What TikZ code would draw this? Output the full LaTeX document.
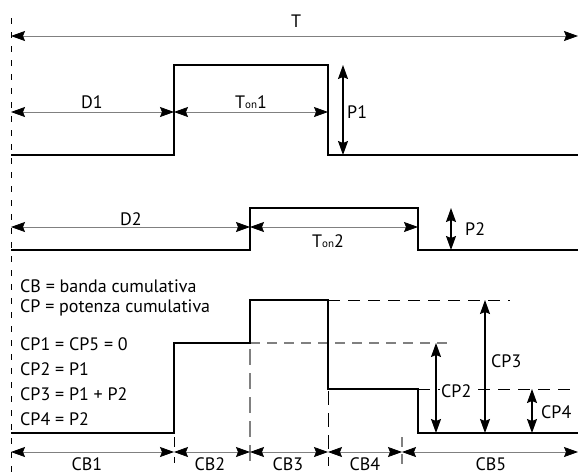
\documentclass[tikz,border=0pt]{standalone}
\usepackage{fontspec}
\setmainfont{PT Sans}
\usetikzlibrary{arrows.meta}
\newcommand\onsub{{\fontsize{11pt}{11pt}\selectfont on}}
\begin{document}
\begin{tikzpicture}[x=1pt, y=-1pt, line join=miter,
    >={Stealth[length=14pt,width=10pt,inset=2pt]},
    sig/.style={line width=2pt},
    dim/.style={gray, line width=0.8pt, <->, >={Stealth[length=14pt,width=10pt,inset=2pt,black]}},
    amp/.style={line width=1.2pt, <->},
    axis/.style={line width=0.9pt, dash pattern=on 6pt off 8pt},
    guide/.style={line width=0.9pt, dash pattern=on 12pt off 8pt},
    guidegray/.style={gray, line width=1.2pt, dash pattern=on 10pt off 7pt},
    lbl/.style={inner sep=0pt, anchor=base, font=\fontsize{18pt}{20pt}\selectfont},
    txt/.style={inner sep=0pt, anchor=base west, font=\fontsize{18pt}{20pt}\selectfont},
    tag/.style={lbl, anchor=base west, fill=white, inner sep=1pt}]
  \useasboundingbox (0,0) rectangle (578,474);
  \coordinate (ax1) at (11,18);
  \coordinate (ax2) at (11,474);
  \draw[axis] (ax1) -- (ax2);
  \coordinate (tl) at (11,36);
  \coordinate (tr) at (578,36);
  \draw[dim] (tl) -- (tr);
  \node[lbl] (tlab) at (296,27) {T};
  \coordinate (a0) at (11,155);
  \coordinate (a1) at (174,155);
  \coordinate (a2) at (174,65);
  \coordinate (a3) at (328,65);
  \coordinate (a4) at (328,155);
  \coordinate (a5) at (578,155);
  \draw[sig] (a0) -- (a1) -- (a2) -- (a3) -- (a4) -- (a5);
  \coordinate (d1l) at (11,112);
  \coordinate (d1r) at (174,112);
  \coordinate (t1r) at (328,112);
  \draw[dim] (d1l) -- (d1r);
  \draw[dim] (d1r) -- (t1r);
  \node[lbl] (d1lab) at (92,108) {D1};
  \node[lbl] (t1lab) at (251,108) {T\onsub1};
  \coordinate (p1t) at (343,65);
  \coordinate (p1b) at (343,155);
  \draw[amp] (p1t) -- (p1b);
  \node[lbl, anchor=base west] (p1lab) at (347,118) {P1};
  \coordinate (b0) at (11,250);
  \coordinate (b1) at (250,250);
  \coordinate (b2) at (250,208);
  \coordinate (b3) at (418,208);
  \coordinate (b4) at (418,250);
  \coordinate (b5) at (578,250);
  \draw[sig] (b0) -- (b1) -- (b2) -- (b3) -- (b4) -- (b5);
  \coordinate (d2l) at (11,227);
  \coordinate (d2r) at (250,227);
  \coordinate (t2r) at (418,227);
  \draw[dim] (d2l) -- (d2r);
  \draw[dim] (d2r) -- (t2r);
  \node[lbl] (d2lab) at (131,225) {D2};
  \node[lbl] (t2lab) at (328,247) {T\onsub2};
  \coordinate (p2t) at (451,208);
  \coordinate (p2b) at (451,250);
  \draw[amp] (p2t) -- (p2b);
  \node[lbl, anchor=base west] (p2lab) at (465,235) {P2};
  \node[txt] (cb) at (20,292) {CB = banda cumulativa};
  \node[txt] (cp) at (20,312) {CP = potenza cumulativa};
  \node[txt] (eq1) at (20,350) {CP1 = CP5 = 0};
  \node[txt] (eq2) at (20,375) {CP2 = P1};
  \node[txt] (eq3) at (20,400) {CP3 = P1 + P2};
  \node[txt] (eq4) at (20,425) {CP4 = P2};
  \coordinate (c0) at (11,433);
  \coordinate (c1) at (174,433);
  \coordinate (c2) at (174,343);
  \coordinate (c3) at (250,343);
  \coordinate (c4) at (250,300);
  \coordinate (c5) at (328,300);
  \coordinate (c6) at (328,389);
  \coordinate (c7) at (418,389);
  \coordinate (c8) at (418,433);
  \coordinate (c9) at (578,433);
  \coordinate (g3) at (510,300);
  \coordinate (g2) at (447,343);
  \coordinate (g4) at (578,389);
  \draw[guide] (c5) -- (g3);
  \draw[guidegray] (c3) -- (g2);
  \draw[guide] (c7) -- (g4);
  \coordinate (v1) at (174,463);
  \coordinate (v2) at (250,464);
  \coordinate (v3) at (328,466);
  \coordinate (v4t) at (402,437);
  \coordinate (v4) at (402,465);
  \draw[guide, dash pattern=on 10pt off 10pt] (c1) ++(0,4) -- (v1);
  \draw[guidegray, dash pattern=on 16pt off 8pt] (c3) ++(0,6) -- (v2);
  \draw[guide, dash pattern=on 14pt off 8pt] (c6) ++(0,2) -- (v3);
  \draw[guidegray] (v4t) -- (v4);
  \draw[sig] (c0) -- (c1) -- (c2) -- (c3) -- (c4) -- (c5) -- (c6) -- (c7) -- (c8) -- (c9);
  \coordinate (cb0) at (11,452);
  \coordinate (cb1) at (174,452);
  \coordinate (cb2) at (250,452);
  \coordinate (cb3) at (328,452);
  \coordinate (cb4) at (402,452);
  \coordinate (cb5) at (578,452);
  \draw[dim] (cb0) -- (cb1);
  \draw[dim] (cb1) -- (cb2);
  \draw[dim] (cb2) -- (cb3);
  \draw[dim] (cb3) -- (cb4);
  \draw[dim] (cb4) -- (cb5);
  \node[lbl] (cb1lab) at (87,470) {CB1};
  \node[lbl] (cb2lab) at (210,470) {CB2};
  \node[lbl] (cb3lab) at (288,470) {CB3};
  \node[lbl] (cb4lab) at (365,470) {CB4};
  \node[lbl] (cb5lab) at (491,470) {CB5};
  \coordinate (cp2t) at (436,343);
  \coordinate (cp2b) at (436,433);
  \coordinate (cp3t) at (485,300);
  \coordinate (cp3b) at (485,433);
  \coordinate (cp4t) at (532,389);
  \coordinate (cp4b) at (532,433);
  \draw[amp] (cp2t) -- (cp2b);
  \draw[amp] (cp3t) -- (cp3b);
  \draw[amp] (cp4t) -- (cp4b);
  \node[tag] (cp2lab) at (440,397) {CP2};
  \node[lbl, anchor=base west] (cp3lab) at (491,367) {CP3};
  \node[lbl, anchor=base west] (cp4lab) at (541,418) {CP4};
\end{tikzpicture}
\end{document}
